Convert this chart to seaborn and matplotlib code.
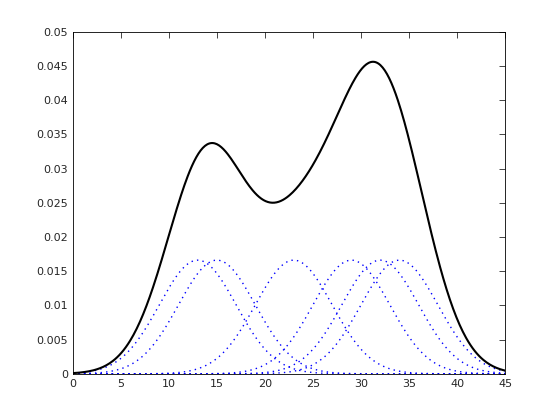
#Kernel density estimate with the individual gaussian kernels
import numpy as np
import pandas as pd
import matplotlib
matplotlib.use('Agg')
import matplotlib.pyplot as plt
import seaborn as sns

#sample points and kernel width
samples = [13, 15, 23, 29, 32, 34]
bandwidth = 4.0
xlim = [0, 45]
ylim = [0, 0.05]
xticks = [0, 5, 10, 15, 20, 25, 30, 35, 40, 45]
yticks = [0, 0.005, 0.01, 0.015, 0.02, 0.025, 0.03, 0.035, 0.04, 0.045, 0.05]

sns.set_style('white')
plt.rcParams['font.family'] = ['DejaVu Sans']

x = np.linspace(xlim[0], xlim[1], 400)
n = len(samples)
rows = []
for i, m in enumerate(samples):
    k = np.exp(-0.5 * ((x - m) / bandwidth) ** 2) / (n * bandwidth * np.sqrt(2 * np.pi))
    rows.append(pd.DataFrame({'x': x, 'y': k, 'kernel': i}))
df = pd.concat(rows, ignore_index=True)
dfSum = df.groupby('x', as_index=False)['y'].sum()

fig = plt.figure(figsize=(5.6, 4.2), dpi=100)
ax = fig.add_axes([0.130, 0.110, 0.772, 0.814])

for i in range(n):
    sns.lineplot(x='x', y='y', data=df[df['kernel'] == i], ax=ax,
                 color='blue', linewidth=1, linestyle=(0, (1, 3)))
sns.lineplot(x='x', y='y', data=dfSum, ax=ax, color='black', linewidth=1.5)

ax.set_xlim(xlim)
ax.set_ylim(ylim)
ax.set_xticks(xticks)
ax.set_yticks(yticks)
ax.set_yticklabels(['0', '0.005', '0.01', '0.015', '0.02', '0.025', '0.03',
                    '0.035', '0.04', '0.045', '0.05'])
ax.set_xlabel('')
ax.set_ylabel('')
ax.tick_params(direction='in', length=4, labelsize=8, colors='#262626',
               top=True, right=True, width=0.6)
for s in ax.spines.values():
    s.set_color('black')
    s.set_linewidth(0.6)

fig.savefig('out.png', dpi=100)
